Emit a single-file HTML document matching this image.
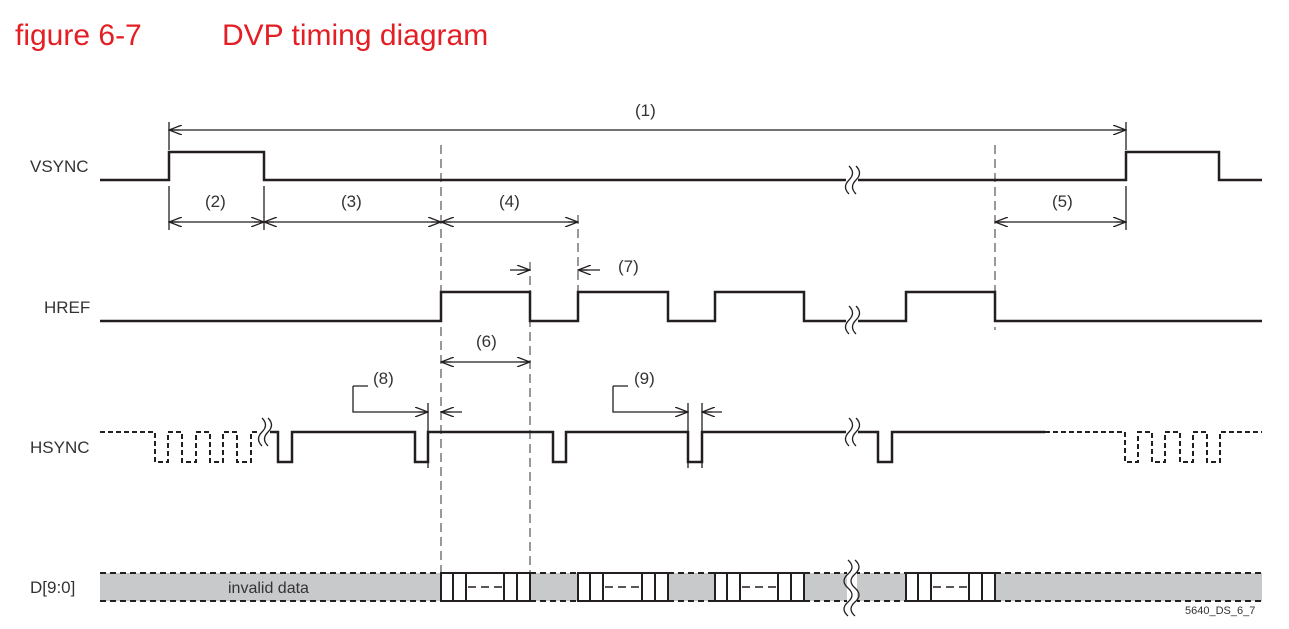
<!DOCTYPE html>
<html><head><meta charset="utf-8"><style>
body{margin:0;background:#fff;}
svg{display:block}
text{font-family:"Liberation Sans",sans-serif;fill:#333;}
</style></head><body>
<svg width="1289" height="629" viewBox="0 0 1289 629" xmlns="http://www.w3.org/2000/svg">
<defs>
<marker id="a" markerWidth="14" markerHeight="10" refX="13" refY="5" orient="auto-start-reverse" markerUnits="userSpaceOnUse">
<path d="M0,0 L13,5 L0,10 M3,5 L13,5" fill="none" stroke="#231f20" stroke-width="1.3"/>
</marker>
</defs>
<text x="15" y="45" style="font-size:30px;fill:#e31e24">figure 6-7</text>
<text x="222" y="45" style="font-size:30px;fill:#e31e24">DVP timing diagram</text>

<!-- data band -->
<rect x="100" y="573" width="1162" height="28" fill="#c8c9cb"/>
<g fill="#fff" stroke="#231f20" stroke-width="2">
<rect x="441" y="573" width="89" height="28"/>
<rect x="578" y="573" width="90" height="28"/>
<rect x="715" y="573" width="89" height="28"/>
<rect x="906" y="573" width="89" height="28"/>
</g>
<g stroke="#231f20" stroke-width="2" fill="none">
<path d="M453,573V601M466,573V601M504,573V601M517,573V601"/>
<path d="M590,573V601M603,573V601M642,573V601M655,573V601"/>
<path d="M727,573V601M740,573V601M778,573V601M791,573V601"/>
<path d="M918,573V601M931,573V601M969,573V601M982,573V601"/>
</g>
<g stroke="#231f20" stroke-width="1.5" stroke-dasharray="8,5">
<path d="M468,587H502M605,587H640M742,587H776M933,587H967"/>
</g>
<g stroke="#231f20" stroke-width="2" stroke-dasharray="6,4" fill="none">
<path d="M100,573H441M530,573H578M668,573H715M804,573H906M995,573H1262"/>
<path d="M100,601H441M530,601H578M668,601H715M804,601H906M995,601H1262"/>
</g>
<rect x="847" y="565" width="10" height="45" fill="#fff"/>
<path d="M848,560q8,7 0,14q-8,7 0,14q8,7 0,14q-8,7 0,14M855,560q8,7 0,14q-8,7 0,14q8,7 0,14q-8,7 0,14" stroke="#231f20" stroke-width="1.3" fill="none"/>

<g font-size="17">
<text x="30" y="172">VSYNC</text>
<text x="44" y="313">HREF</text>
<text x="30" y="453">HSYNC</text>
<text x="30" y="593">D[9:0]</text>
<text x="635" y="116">(1)</text>
<text x="205" y="207">(2)</text>
<text x="341" y="207">(3)</text>
<text x="499" y="207">(4)</text>
<text x="1052" y="207">(5)</text>
<text x="476" y="347">(6)</text>
<text x="618" y="272">(7)</text>
<text x="373" y="384">(8)</text>
<text x="634" y="384">(9)</text>
<text x="228" y="593" font-size="16">invalid data</text>
<text x="1185" y="614" font-size="11">5640_DS_6_7</text>
</g>

<!-- dashed verticals -->
<g stroke="#555" stroke-width="1.2" stroke-dasharray="9,5">
<path d="M441,145V572M995,145V330M530,262V572M578,215V300"/>
</g>

<!-- VSYNC -->
<path d="M100,180H169V152H264V180H1126V152H1219V180H1262" stroke="#231f20" stroke-width="2.5" fill="none"/>
<rect x="846" y="170" width="12" height="20" fill="#fff"/>
<path d="M849,166q7,7 0,14q-7,7 0,14M856,166q7,7 0,14q-7,7 0,14" stroke="#231f20" stroke-width="1.3" fill="none"/>
<!-- HREF -->
<path d="M100,321H441V292H530V321H578V292H668V321H715V292H804V321H906V292H995V321H1262" stroke="#231f20" stroke-width="2.5" fill="none"/>
<rect x="846" y="310" width="12" height="20" fill="#fff"/>
<path d="M849,306q7,7 0,14q-7,7 0,14M856,306q7,7 0,14q-7,7 0,14" stroke="#231f20" stroke-width="1.3" fill="none"/>
<!-- HSYNC -->
<path d="M270,432H278V462H292V432H415V462H428V432H553V462H566V432H688V462H702V432H878V462H892V432H1045" stroke="#231f20" stroke-width="2.5" fill="none"/>
<path d="M100,432H155V462H168V432H182V462H196V432H210V462H223V432H237V462H251V432H258" stroke="#231f20" stroke-width="2" stroke-dasharray="5,3" fill="none"/>
<path d="M1045,432H1125V462H1138V432H1152V462H1165V432H1180V462H1193V432H1207V462H1220V432H1262" stroke="#231f20" stroke-width="2" stroke-dasharray="5,3" fill="none"/>
<path d="M262,418q7,7 0,14q-7,7 0,14M268,418q7,7 0,14q-7,7 0,14" stroke="#231f20" stroke-width="1.3" fill="none"/>
<rect x="846" y="422" width="12" height="20" fill="#fff"/>
<path d="M849,418q7,7 0,14q-7,7 0,14M856,418q7,7 0,14q-7,7 0,14" stroke="#231f20" stroke-width="1.3" fill="none"/>

<!-- dimension lines -->
<g stroke="#231f20" stroke-width="1.3" fill="none">
<path d="M169,122V150M1126,122V150"/>
<path d="M169,130H1126" marker-start="url(#a)" marker-end="url(#a)"/>
<path d="M169,186V230M264,186V230M1126,186V230"/>
<path d="M169,222H264" marker-start="url(#a)" marker-end="url(#a)"/>
<path d="M264,222H441" marker-start="url(#a)" marker-end="url(#a)"/>
<path d="M441,222H578" marker-start="url(#a)" marker-end="url(#a)"/>
<path d="M995,222H1126" marker-start="url(#a)" marker-end="url(#a)"/>
<path d="M441,362H530" marker-start="url(#a)" marker-end="url(#a)"/>
<path d="M510,270H530" marker-end="url(#a)"/>
<path d="M600,270H578" marker-end="url(#a)"/>
<path d="M353,386V412H428" marker-end="url(#a)"/>
<path d="M428,403V468"/>
<path d="M462,412H441" marker-end="url(#a)"/>
<path d="M613,386V412H688" marker-end="url(#a)"/>
<path d="M688,403V468M702,403V468"/>
<path d="M722,412H702" marker-end="url(#a)"/>
<path d="M353,386H368M613,386H628"/>
</g>
</svg>
</body></html>
